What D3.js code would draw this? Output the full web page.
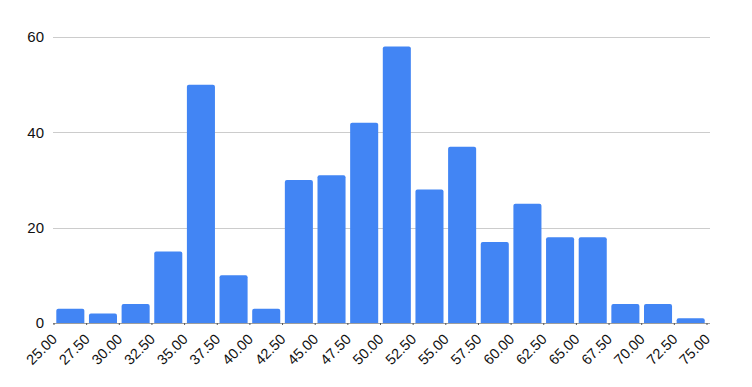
<!DOCTYPE html>
<html>
<head>
<meta charset="utf-8">
<script src="https://cdn.jsdelivr.net/npm/d3@7"></script>
<style>
  body { margin: 0; background: #fff; }
  text { font-family: "Liberation Sans", Arial, sans-serif; fill: #111; }
</style>
</head>
<body>
<svg id="chart"></svg>
<script>
var binEdges = [25, 27.5, 30, 32.5, 35, 37.5, 40, 42.5, 45, 47.5, 50, 52.5, 55, 57.5, 60, 62.5, 65, 67.5, 70, 72.5, 75];
var counts = [3, 2, 4, 15, 50, 10, 3, 30, 31, 42, 58, 28, 37, 17, 25, 18, 18, 4, 4, 1];
var yTicks = [0, 20, 40, 60];

var W = 752, H = 387;
var plotLeft = 53, plotRight = 710, plotTop = 37, plotBottom = 323;

var svg = d3.select('#chart')
    .attr('width', W)
    .attr('height', H);

var x = d3.scaleLinear().domain([25, 75]).range([plotLeft + 1, 707]);
var y = d3.scaleLinear().domain([0, 60]).range([plotBottom, plotTop]);

// gridlines
svg.append('g')
    .selectAll('line')
    .data(yTicks)
    .enter()
    .append('line')
    .attr('x1', plotLeft)
    .attr('x2', plotRight)
    .attr('y1', function(d){ return Math.round(y(d)) + 0.5; })
    .attr('y2', function(d){ return Math.round(y(d)) + 0.5; })
    .attr('stroke', function(d){ return d === 0 ? '#9e9e9e' : '#cccccc'; })
    .attr('stroke-width', 1);

// y labels
svg.append('g')
    .selectAll('text')
    .data(yTicks)
    .enter()
    .append('text')
    .attr('x', 44)
    .attr('y', function(d){ return y(d); })
    .attr('dy', '0.35em')
    .attr('text-anchor', 'end')
    .attr('font-size', 15)
    .text(function(d){ return d; });

// bars
var gap = 2.3;
svg.append('g')
    .selectAll('path')
    .data(counts)
    .enter()
    .append('path')
    .attr('fill', '#4285f4')
    .attr('d', function(d, i) {
        var x0 = x(binEdges[i]) + gap, x1 = x(binEdges[i + 1]) - gap;
        var y0 = y(0), y1 = y(d), r = Math.min(2, (y0 - y1) / 2);
        return 'M' + x0 + ',' + y0 +
            'V' + (y1 + r) +
            'Q' + x0 + ',' + y1 + ' ' + (x0 + r) + ',' + y1 +
            'H' + (x1 - r) +
            'Q' + x1 + ',' + y1 + ' ' + x1 + ',' + (y1 + r) +
            'V' + y0 + 'Z';
    });

// tick marks
svg.append('g')
    .selectAll('line')
    .data(binEdges)
    .enter()
    .append('line')
    .attr('x1', function(d){ return x(d); })
    .attr('x2', function(d){ return x(d); })
    .attr('y1', plotBottom)
    .attr('y2', plotBottom + 2)
    .attr('stroke', '#555')
    .attr('stroke-width', 1);

// x labels
svg.append('g')
    .selectAll('text')
    .data(binEdges)
    .enter()
    .append('text')
    .attr('font-size', 14.5)
    .attr('text-anchor', 'end')
    .attr('transform', function(d){ return 'translate(' + (x(d) + 4) + ',' + (plotBottom + 17) + ') rotate(-45)'; })
    .text(function(d){ return d3.format('.2f')(d); });
</script>
</body>
</html>
